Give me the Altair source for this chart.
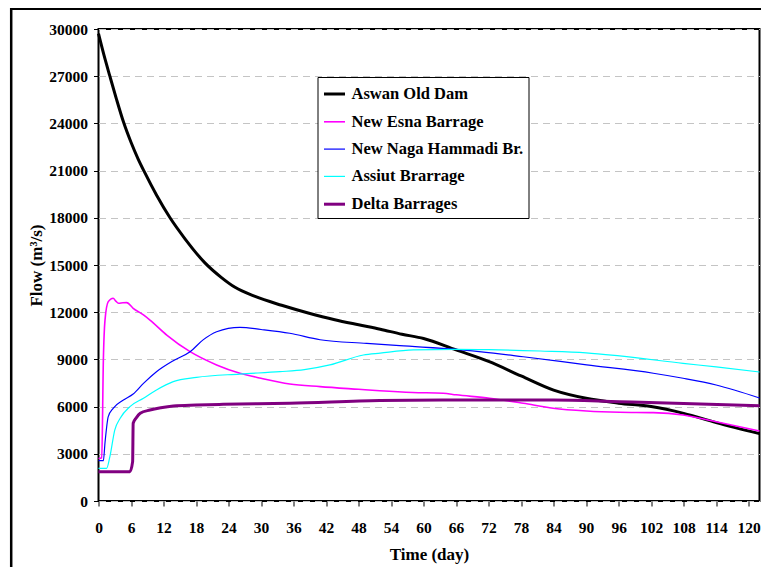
import altair as alt
import pandas as pd

# ---------------- data ----------------
series_names = ["Aswan Old Dam", "New Esna Barrage", "New Naga Hammadi Br.",
                "Assiut Brarrage", "Delta Barrages"]
series_colors = ["#000000", "#ff00ff", "#0000ff", "#00ffff", "#800080"]
series_widths = [3.0, 1.6, 1.2, 1.2, 3.0]

aswan_days = [0, 1, 2.1, 3.3, 4.6, 6, 7.3, 8.5, 10.7, 13.2, 16, 19.6, 22.7, 25.2,
              28.9, 33.8, 38.7, 43.6, 48, 52, 56, 60, 66, 72, 78, 84, 90, 96, 102,
              108, 114, 122]
aswan_flow = [29700, 28350, 27000, 25560, 24100, 22800, 21750, 20900, 19450, 18000,
              16650, 15150, 14200, 13580, 13000, 12440, 11950, 11520, 11200, 10920,
              10600, 10330, 9600, 8870, 7950, 7050, 6530, 6220, 6000, 5570, 4980, 4280]

esna_days = [0, 0.6, 0.9, 1.2, 1.8, 2.7, 3.2, 3.7, 4.5, 5.2, 6.4, 8.3, 9.5, 12.6,
             16.9, 21.8, 26.1, 30, 35.3, 40.9, 48, 51.9, 58, 63.6, 66, 72.2, 78.4,
             83.9, 90.1, 96.2, 102.4, 107.9, 114, 122]
esna_flow = [2700, 2750, 9000, 11500, 12670, 12890, 12700, 12570, 12600, 12610, 12250,
             11825, 11500, 10550, 9490, 8650, 8120, 7800, 7440, 7270, 7100, 7010, 6900,
             6850, 6750, 6530, 6210, 5895, 5720, 5640, 5615, 5470, 5040, 4450]

naga_days = [0, 0.9, 1.2, 1.8, 2.7, 4.6, 6.4, 8.3, 10.7, 13.8, 16.9, 19.3, 21.8,
             26.1, 30, 35.3, 40.9, 49.5, 55.6, 66.1, 78.4, 90.1, 102.4, 107.9, 114, 122]
naga_flow = [2565, 2565, 3700, 5360, 5890, 6420, 6800, 7480, 8220, 8920, 9490, 10240,
             10760, 11040, 10900, 10660, 10250, 10020, 9870, 9640, 9170, 8650, 8120,
             7800, 7375, 6550]

assiut_days = [0, 1.5, 2.1, 3.0, 4.0, 5.8, 8.3, 10.7, 13.8, 18.1, 26.1, 33.5, 38,
               42.7, 48.9, 52, 58.1, 66.1, 72, 81.5, 90, 96.2, 107.9, 114, 122]
assiut_flow = [2080, 2080, 2820, 4510, 5260, 6000, 6530, 7060, 7590, 7860, 8070, 8220,
               8350, 8650, 9280, 9400, 9600, 9640, 9620, 9535, 9420, 9220, 8750, 8520, 8200]

delta_days = [0, 5.8, 6.3, 6.4, 7.0, 7.7, 9.5, 11.5, 13.8, 18, 23, 35.3, 51.9, 66,
              83.9, 96.2, 108, 122]
delta_flow = [1865, 1865, 2500, 4940, 5300, 5575, 5785, 5930, 6040, 6100, 6145, 6210,
              6380, 6420, 6420, 6310, 6200, 6050]

x_ticks = list(range(0, 121, 6))
y_ticks = list(range(0, 30001, 3000))

all_days = [aswan_days, esna_days, naga_days, assiut_days, delta_days]
all_flows = [aswan_flow, esna_flow, naga_flow, assiut_flow, delta_flow]

rows = []
for name, days, flows in zip(series_names, all_days, all_flows):
    for d, f in zip(days, flows):
        rows.append({"series": name, "day": d, "flow": f})
df = pd.DataFrame(rows)

FONT = "Liberation Serif"

legend_kw = dict(
    title=None, orient="none", legendX=219, legendY=48,
    symbolType="stroke", symbolSize=441,
    labelFont=FONT, labelFontSize=16.5, labelFontWeight="bold", labelColor="black",
    labelLimit=400, labelOffset=5, padding=5, rowPadding=7.3,
    strokeColor="black", fillColor="white", cornerRadius=0,
)

lines = alt.Chart(df).mark_line(interpolate="monotone").encode(
    x=alt.X("day:Q",
            scale=alt.Scale(domain=[0, 122], nice=False, zero=False),
            axis=alt.Axis(values=x_ticks, title="Time (day)", grid=False, domain=False,
                          tickColor="black", tickSize=5, tickWidth=1,
                          labelFont=FONT, labelFontSize=15.5, labelFontWeight="bold",
                          labelColor="black", labelPadding=14, labelFlush=False,
                          titleFont=FONT, titleFontSize=17, titleFontWeight="bold",
                          titleColor="black", titlePadding=11)),
    y=alt.Y("flow:Q",
            scale=alt.Scale(domain=[0, 30000], nice=False),
            axis=alt.Axis(values=y_ticks, format="d", title="Flow (m³/s)",
                          grid=True, gridColor="#c4c4c4", gridDash=[7, 5], gridWidth=1,
                          domain=False, tickColor="black", tickSize=5, tickWidth=1,
                          labelFont=FONT, labelFontSize=15.5, labelFontWeight="bold",
                          labelColor="black", labelPadding=6,
                          titleFont=FONT, titleFontSize=17, titleFontWeight="bold",
                          titleColor="black", titlePadding=3)),
    color=alt.Color("series:N",
                    scale=alt.Scale(domain=series_names, range=series_colors),
                    legend=alt.Legend(**legend_kw)),
    strokeWidth=alt.StrokeWidth("series:N",
                                scale=alt.Scale(type="ordinal", domain=series_names,
                                                range=series_widths),
                                legend=alt.Legend(**legend_kw)),
)

frame_data = pd.DataFrame({"k": [0]})
frame_left = alt.Chart(frame_data).mark_rule(color="black", strokeWidth=2.5).encode(
    x=alt.value(-87.3), y=alt.value(-25), y2=alt.value(620))
frame_top = alt.Chart(frame_data).mark_rule(color="black", strokeWidth=3).encode(
    x=alt.value(-88.5), x2=alt.value(720), y=alt.value(-20.5))

chart = alt.layer(frame_left, frame_top, lines).properties(
    width=661, height=472,
    autosize=alt.AutoSizeParams(type="none"),
    padding={"left": 90.5, "top": 21, "right": 1.5, "bottom": 66},
    background="white",
).configure(font=FONT).configure_view(stroke="black", strokeWidth=2)

chart.save("out.html", embed_options={"renderer": "svg", "actions": False})
